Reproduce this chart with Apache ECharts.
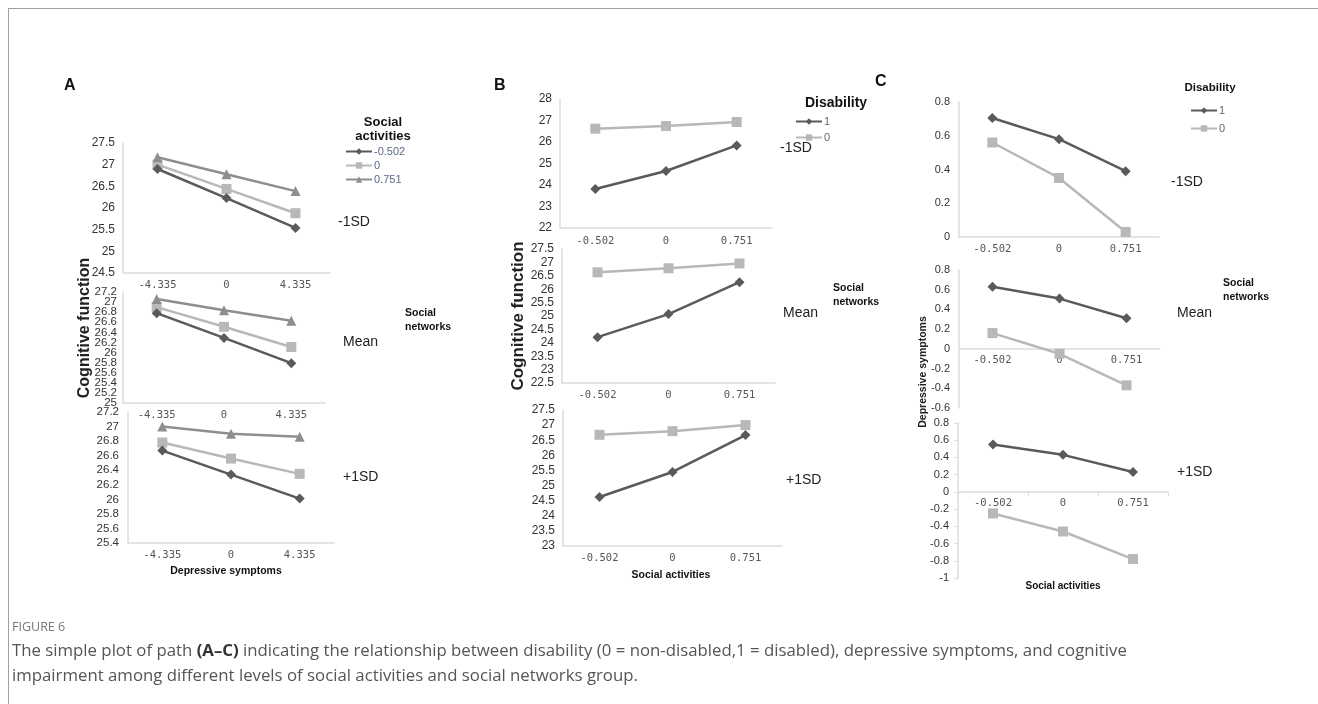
<!DOCTYPE html>
<html><head><meta charset="utf-8">
<script src="https://cdn.jsdelivr.net/npm/echarts@6/dist/echarts.min.js"></script>
<style>html,body{margin:0;padding:0;background:#fff}#c{width:1318px;height:704px}</style>
</head><body><div id="c"></div>
<script>
// ---- data ----
const depCats = ['-4.335', '0', '4.335'];
const actCats = ['-0.502', '0', '0.751'];
const actLevels = ['-0.502', '0', '0.751'];
const disLevels = ['1', '0'];
// Panel A: cognitive function by depressive symptoms, lines = social activities
const A_low_d = [26.9, 26.23, 25.54], A_low_s = [27.0, 26.44, 25.88], A_low_t = [27.17, 26.78, 26.39];
const A_mean_d = [26.78, 26.29, 25.79], A_mean_s = [26.9, 26.51, 26.11], A_mean_t = [27.06, 26.84, 26.63];
const A_high_d = [26.67, 26.34, 26.01], A_high_s = [26.78, 26.56, 26.35], A_high_t = [27.0, 26.9, 26.86];
// Panel B: cognitive function by social activities, lines = disability
const B_low_1 = [23.81, 24.65, 25.84], B_low_0 = [26.62, 26.74, 26.93];
const B_mean_1 = [24.21, 25.07, 26.26], B_mean_0 = [26.63, 26.78, 26.96];
const B_high_1 = [24.62, 25.45, 26.67], B_high_0 = [26.68, 26.8, 27.0];
// Panel C: depressive symptoms by social activities, lines = disability
const C_low_1 = [0.705, 0.58, 0.39], C_low_0 = [0.56, 0.35, 0.03];
const C_mean_1 = [0.63, 0.51, 0.31], C_mean_0 = [0.16, -0.05, -0.37];
const C_high_1 = [0.55, 0.43, 0.23], C_high_0 = [-0.25, -0.46, -0.78];
// densely packed tick labels of panel A (mean) drawn on a second, line-less axis
const A_mean_extraTicks = [27, 25.2];

// ---- styles ----
const DARK = '#5a5a5a', LIGHT = '#b8b8b8', MID = '#8e8e8e';
const sym = {d: ['diamond', 10, DARK], s: ['rect', 10, LIGHT], t: ['triangle', 10, MID]};
const SANS = '"Liberation Sans", Arial, sans-serif';

const grids = [
  {left:123, top:143, width:207, height:130},
  {left:123, top:292, width:202, height:111},
  {left:128, top:412, width:206, height:131},
  {left:560, top:99,  width:212, height:129},
  {left:562, top:249, width:213, height:134},
  {left:563, top:410, width:219, height:136},
  {left:959, top:102, width:200, height:135},
  {left:959, top:270, width:201, height:138},
  {left:958, top:423, width:210, height:155}
];
// [min, max, interval, label font size, label margin]
const yCfg = [
  [24.5, 27.5, 0.5, 12, 8], [25, 27.2, 0.2, 11.5, 6], [25.4, 27.2, 0.2, 11.5, 9],
  [22, 28, 1, 12, 8], [22.5, 27.5, 0.5, 12, 8], [23, 27.5, 0.5, 12, 8],
  [0, 0.8, 0.2, 11, 9], [-0.6, 0.8, 0.2, 11, 9], [-1, 0.8, 0.2, 11, 9]
];
const xMargins = [7, 7, 7, 8, 7, 7, 7, 6, 6];
const isExtra = v => A_mean_extraTicks.some(t => Math.abs(t - v) < 1e-6);
const fmt = v => String(+(+v).toFixed(2));

const xAxes = grids.map((g, i) => {
  const [mn, mx] = yCfg[i];
  const zeroOffset = (mn < 0 && mx > 0) ? -g.height * (0 - mn) / (mx - mn) : 0;
  return {
    type: 'category', gridIndex: i, data: i < 3 ? depCats : actCats, boundaryGap: true,
    offset: zeroOffset,
    axisLine: {show: true, onZero: false, lineStyle: {color: '#dcdcdc', width: 1.5}},
    axisTick: {show: i === 8, length: 4, lineStyle: {color: '#dcdcdc'}},
    axisLabel: {margin: xMargins[i], fontFamily: '"DejaVu Sans Mono", monospace', fontSize: 10.5, color: '#555'},
    splitLine: {show: false}
  };
});
const yAxes = grids.map((g, i) => ({
  type: 'value', gridIndex: i, position: 'left', min: yCfg[i][0], max: yCfg[i][1], interval: yCfg[i][2],
  axisLine: {show: true, lineStyle: {color: '#dcdcdc', width: 1.5}},
  axisTick: {show: i === 8, length: 4, lineStyle: {color: '#dcdcdc'}},
  axisLabel: {margin: yCfg[i][4], fontFamily: SANS, fontSize: yCfg[i][3], color: '#333',
    formatter: i === 1 ? (v => isExtra(v) ? '' : fmt(v)) : fmt,
    hideOverlap: false, showMinLabel: true, showMaxLabel: true},
  splitLine: {show: false}
}));
// helper axis (index 9) on grid 1 carrying only the labels next to min/max
yAxes.push({
  type: 'value', gridIndex: 1, position: 'left', offset: 0,
  min: yCfg[1][0], max: yCfg[1][1], interval: yCfg[1][2],
  axisLine: {show: false}, axisTick: {show: false}, splitLine: {show: false},
  axisLabel: {margin: yCfg[1][4], fontFamily: SANS, fontSize: yCfg[1][3], color: '#333',
    formatter: v => isExtra(v) ? fmt(v) : '', hideOverlap: false}
});

function mk(name, data, k, gi) {
  const [shape, size, color] = sym[k];
  return {
    type: 'line', name, data, xAxisIndex: gi, yAxisIndex: gi,
    symbol: shape, symbolSize: size, showSymbol: true,
    lineStyle: {color, width: 2.5}, itemStyle: {color},
    animation: false, z: k === 'd' ? 4 : 3
  };
}
const series = [
  mk(actLevels[0], A_low_d, 'd', 0), mk(actLevels[1], A_low_s, 's', 0), mk(actLevels[2], A_low_t, 't', 0),
  mk(actLevels[0], A_mean_d, 'd', 1), mk(actLevels[1], A_mean_s, 's', 1), mk(actLevels[2], A_mean_t, 't', 1),
  mk(actLevels[0], A_high_d, 'd', 2), mk(actLevels[1], A_high_s, 's', 2), mk(actLevels[2], A_high_t, 't', 2),
  mk(disLevels[0], B_low_1, 'd', 3), mk(disLevels[1], B_low_0, 's', 3),
  mk(disLevels[0], B_mean_1, 'd', 4), mk(disLevels[1], B_mean_0, 's', 4),
  mk(disLevels[0], B_high_1, 'd', 5), mk(disLevels[1], B_high_0, 's', 5),
  mk(disLevels[0], C_low_1, 'd', 6), mk(disLevels[1], C_low_0, 's', 6),
  mk(disLevels[0], C_mean_1, 'd', 7), mk(disLevels[1], C_mean_0, 's', 7),
  mk(disLevels[0], C_high_1, 'd', 8), mk(disLevels[1], C_high_0, 's', 8)
];

function txt(x, y, text, opts) {
  return {type: 'text', x, y, style: Object.assign({text, fill: '#222', font: '14px ' + SANS, align: 'left', verticalAlign: 'middle'}, opts || {})};
}
function rtxt(x, y, text, font) {
  return {type: 'text', x, y, rotation: Math.PI / 2, style: {text, fill: '#222', font, align: 'center', verticalAlign: 'middle'}};
}
const CAP = '"Open Sans", sans-serif';
const graphics = [
  {type: 'line', shape: {x1: 8, y1: 8.5, x2: 1318, y2: 8.5}, style: {stroke: '#a0a0a0', lineWidth: 1}},
  {type: 'line', shape: {x1: 8.5, y1: 8, x2: 8.5, y2: 704}, style: {stroke: '#a0a0a0', lineWidth: 1}},
  txt(64, 86, 'A', {font: 'bold 16px ' + SANS, fill: '#111'}),
  txt(494, 86, 'B', {font: 'bold 16px ' + SANS, fill: '#111'}),
  txt(875, 82, 'C', {font: 'bold 16px ' + SANS, fill: '#111'}),
  // panel A
  txt(383, 122, 'Social', {font: 'bold 13px ' + SANS, align: 'center', fill: '#111'}),
  txt(383, 136, 'activities', {font: 'bold 13px ' + SANS, align: 'center', fill: '#111'}),
  txt(338, 222, '-1SD'), txt(343, 342, 'Mean'), txt(343, 477, '+1SD'),
  txt(405, 313, 'Social', {font: 'bold 10.5px ' + SANS, fill: '#111'}),
  txt(405, 327, 'networks', {font: 'bold 10.5px ' + SANS, fill: '#111'}),
  rtxt(85, 328, 'Cognitive function', 'bold 16px ' + SANS),
  txt(226, 571, 'Depressive symptoms', {font: 'bold 10.5px ' + SANS, align: 'center', fill: '#111'}),
  // panel B
  txt(836, 103, 'Disability', {font: 'bold 14px ' + SANS, align: 'center', fill: '#111'}),
  txt(780, 148, '-1SD'), txt(783, 313, 'Mean'), txt(786, 480, '+1SD'),
  txt(833, 288, 'Social', {font: 'bold 10.5px ' + SANS, fill: '#111'}),
  txt(833, 302, 'networks', {font: 'bold 10.5px ' + SANS, fill: '#111'}),
  rtxt(518, 316, 'Cognitive function', 'bold 17px ' + SANS),
  txt(671, 575, 'Social activities', {font: 'bold 10.5px ' + SANS, align: 'center', fill: '#111'}),
  // panel C
  txt(1210, 88, 'Disability', {font: 'bold 11.5px ' + SANS, align: 'center', fill: '#111'}),
  txt(1171, 182, '-1SD'), txt(1177, 313, 'Mean'), txt(1177, 472, '+1SD'),
  txt(1223, 283, 'Social', {font: 'bold 10.5px ' + SANS, fill: '#111'}),
  txt(1223, 297, 'networks', {font: 'bold 10.5px ' + SANS, fill: '#111'}),
  rtxt(923, 372, 'Depressive symptoms', 'bold 10.5px ' + SANS),
  txt(1063, 586, 'Social activities', {font: 'bold 10px ' + SANS, align: 'center', fill: '#111'}),
  // caption
  txt(12, 627, 'FIGURE 6', {font: '12.5px ' + CAP, fill: '#777'}),
  {type: 'text', x: 12, y: 651, style: {
    text: '{n|The simple plot of path }{b|(A–C)}{n| indicating the relationship between disability (0 = non-disabled,1 = disabled), depressive symptoms, and cognitive}',
    rich: {n: {font: '16.8px ' + CAP, fill: '#555'}, b: {font: 'bold 16.8px ' + CAP, fill: '#333'}},
    verticalAlign: 'middle'}},
  txt(12, 676, 'impairment among different levels of social activities and social networks group.', {font: '16.8px ' + CAP, fill: '#555'})
];

const legends = [
  {data: actLevels, left: 345, top: 146, itemGap: 3, textColor: '#5a6a85'},
  {data: disLevels, left: 795, top: 116, itemGap: 5, textColor: '#666'},
  {data: disLevels, left: 1190, top: 105, itemGap: 7, textColor: '#666'}
].map(l => ({
  orient: 'vertical', left: l.left, top: l.top, data: l.data, itemGap: l.itemGap,
  itemWidth: 26, itemHeight: 8, selectedMode: false, padding: 0,
  textStyle: {fontFamily: SANS, fontSize: 11, color: l.textColor, padding: [0, 0, 0, -3]}
}));

const chart = echarts.init(document.getElementById('c'), null, {renderer: 'canvas'});
chart.setOption({
  backgroundColor: '#fff', animation: false,
  grid: grids.map(g => Object.assign({containLabel: false}, g)),
  xAxis: xAxes, yAxis: yAxes, series, legend: legends, graphic: graphics
});
</script></body></html>
